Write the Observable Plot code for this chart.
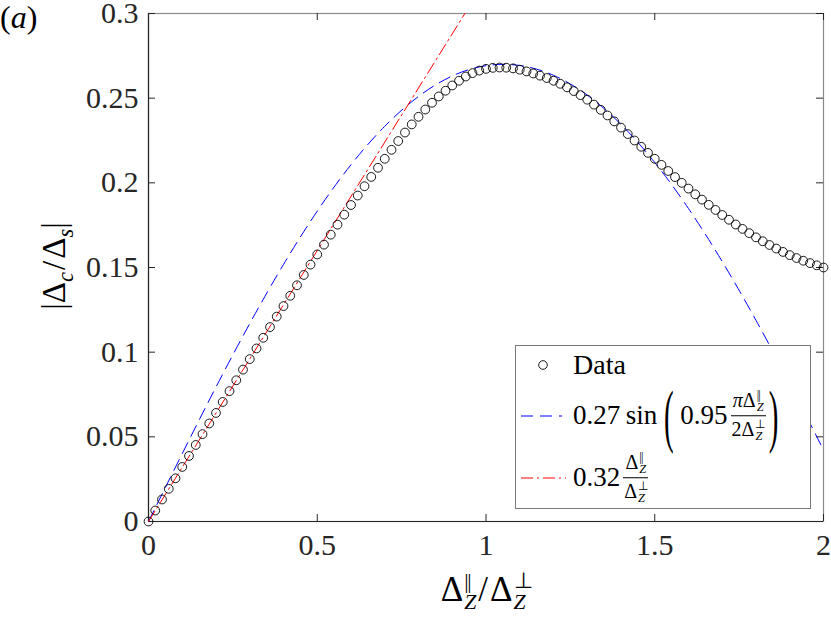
<!DOCTYPE html>
<html>
<head>
<meta charset="utf-8">
<script src="https://cdn.jsdelivr.net/npm/d3@7"></script>
<script src="https://cdn.jsdelivr.net/npm/@observablehq/plot@0.6"></script>
<style>
  html, body { margin: 0; padding: 0; background: #fff; }
  #wrap { position: relative; width: 831px; height: 617px; font-family: "Liberation Serif", serif; color: #000; }
  #wrap svg { position: absolute; left: 0; top: 0; }
  #wrap svg text, #wrap svg tspan { font-family: "Liberation Serif", serif !important; }
  .abs { position: absolute; white-space: nowrap; line-height: 1; }
  .ss { display: inline-flex; flex-direction: column; font-size: 0.62em; line-height: 0.98; vertical-align: 0.62em; margin-left: 1px; }
  .ss > span { display: block; height: 0.98em; }
  .ss .sp { letter-spacing: -0.06em; }
  .frac { display: inline-flex; flex-direction: column; align-items: center; font-size: 0.74em; vertical-align: middle; line-height: 1.0; margin: 0 2px; }
  .frac .num { border-bottom: 1.2px solid #000; padding: 0 2px 2px 2px; }
  .frac .den { padding: 2px 2px 0 2px; }
  .row { position: absolute; display: flex; align-items: center; font-size: 27px; line-height: 1; }
  .bigp { display: inline-block; transform: scaleY(2.4); font-size: 29px; }
  .sl { margin: 0 2px; }
</style>
</head>
<body>
<div id="wrap"></div>
<script>
// ----- data -----
const ratio = [0,0.02,0.04,0.06,0.08,0.1,0.12,0.14,0.16,0.18,0.2,0.22,0.24,0.26,0.28,0.3,0.32,0.34,0.36,0.38,0.4,0.42,0.44,0.46,0.48,0.5,0.52,0.54,0.56,0.58,0.6,0.62,0.64,0.66,0.68,0.7,0.72,0.74,0.76,0.78,0.8,0.82,0.84,0.86,0.88,0.9,0.92,0.94,0.96,0.98,1,1.02,1.04,1.06,1.08,1.1,1.12,1.14,1.16,1.18,1.2,1.22,1.24,1.26,1.28,1.3,1.32,1.34,1.36,1.38,1.4,1.42,1.44,1.46,1.48,1.5,1.52,1.54,1.56,1.58,1.6,1.62,1.64,1.66,1.68,1.7,1.72,1.74,1.76,1.78,1.8,1.82,1.84,1.86,1.88,1.9,1.92,1.94,1.96,1.98,2];
const dataY = [0,0.0065,0.013,0.0193,0.0255,0.0322,0.0387,0.0452,0.0516,0.0579,0.0641,0.0706,0.077,0.0834,0.0897,0.0959,0.1022,0.1085,0.1148,0.121,0.1272,0.1333,0.1395,0.1456,0.1517,0.1577,0.1635,0.1694,0.1753,0.1812,0.1869,0.1925,0.198,0.2035,0.2089,0.2142,0.2195,0.2247,0.2297,0.2345,0.239,0.2433,0.2473,0.251,0.2544,0.2575,0.2603,0.2628,0.2648,0.2663,0.2673,0.2679,0.2681,0.268,0.2676,0.2668,0.2658,0.2646,0.2633,0.2619,0.2603,0.2585,0.2564,0.2542,0.2518,0.2491,0.2462,0.2431,0.2398,0.2363,0.2326,0.2288,0.225,0.2213,0.2177,0.2142,0.2106,0.207,0.2034,0.2,0.1966,0.1932,0.1901,0.187,0.184,0.181,0.1782,0.1754,0.1728,0.1703,0.1678,0.1655,0.1633,0.1612,0.1592,0.1573,0.1556,0.154,0.1526,0.1513,0.15];
const sinX = [0,0.1,0.2,0.3,0.4,0.5,0.6,0.7,0.8,0.9,1,1.1,1.2,1.3,1.4,1.5,1.6,1.7,1.8,1.9,2];
const sinY = [0,0.0401,0.0794,0.1169,0.1518,0.1833,0.2107,0.2334,0.251,0.2631,0.2692,0.2693,0.2635,0.2518,0.2345,0.212,0.1848,0.1535,0.1188,0.0814,0.0422];
const linX = [0,0.9375];
const linY = [0,0.3];
const xTicks = [0,0.5,1,1.5,2];
const yTicks = [0,0.05,0.1,0.15,0.2,0.25,0.3];

// ----- chart -----
const axisColor = "#262626";
const serif = "Liberation Serif";
const chart = Plot.plot({
  width: 831,
  height: 617,
  marginLeft: 148,
  marginRight: 8,
  marginTop: 13,
  marginBottom: 96,
  style: {fontFamily: serif, fontSize: "30px", color: axisColor, background: "white", overflow: "visible"},
  x: {domain: [0, 2]},
  y: {domain: [0, 0.3]},
  marks: [
    Plot.frame({stroke: "#8a8a8a", strokeWidth: 1.2}),
    Plot.axisX({ticks: xTicks, tickSize: 0, tickPadding: 12, tickFormat: d => String(d), label: null, fill: axisColor, fontFamily: serif}),
    Plot.axisY({ticks: yTicks, tickSize: 0, tickPadding: 10, tickFormat: d => String(d), label: null, fill: axisColor, fontFamily: serif}),
    Plot.tickX(xTicks, {x: d => d, insetTop: 501, stroke: axisColor}),
    Plot.tickX(xTicks, {x: d => d, insetBottom: 501, stroke: axisColor}),
    Plot.tickY(yTicks, {y: d => d, insetRight: 668, stroke: axisColor}),
    Plot.tickY(yTicks, {y: d => d, insetLeft: 668, stroke: axisColor}),
    Plot.ruleX([0], {stroke: axisColor, strokeWidth: 1.2}),
    Plot.ruleY([0], {stroke: axisColor, strokeWidth: 1.2}),
    Plot.line(sinY, {x: sinX, y: sinY, curve: "natural", stroke: "#0000ff", strokeWidth: 1, strokeDasharray: "12,7"}),
    Plot.line(linY, {x: linX, y: linY, stroke: "#ff0000", strokeWidth: 1, strokeDasharray: "12,4,2,4"}),
    Plot.dot(dataY, {x: ratio, y: dataY, r: 4.4, stroke: "#000", strokeWidth: 0.9, fill: "none"})
  ]
});

const wrap = document.getElementById("wrap");
wrap.appendChild(chart);

function dz(sup) {
  return `Δ<span class="ss"><span class="sp">${sup}</span><span><i>Z</i></span></span>`;
}
const PAR = "||";
const PERP = "⊥";

const html = `
<div class="abs" style="left:0px; top:1px; font-size:32px;">(<i>a</i>)</div>
<div class="abs" style="left:58px; top:266px; font-size:33px; transform: translate(-50%,-50%) rotate(-90deg);">|Δ<sub style="font-size:0.68em"><i>c</i></sub><span class="sl">/</span>Δ<sub style="font-size:0.68em"><i>s</i></sub>|</div>
<div class="abs" style="left:486px; top:592px; font-size:35px; transform: translate(-50%,-50%);">${dz(PAR)}<span class="sl">/</span>${dz(PERP)}</div>
<div class="abs" style="left:515px; top:345px; width:294px; height:162px; border:1.5px solid #777; background:#fff;"></div>
<svg class="abs" style="left:515px; top:345px;" width="60" height="160">
  <circle cx="28" cy="20" r="4.3" fill="none" stroke="#000" stroke-width="0.9"/>
  <line x1="6" x2="47" y1="71" y2="71" stroke="#0000ff" stroke-width="1" stroke-dasharray="12,7"/>
  <line x1="6" x2="51" y1="133" y2="133" stroke="#ff0000" stroke-width="1" stroke-dasharray="12,4,2,4"/>
</svg>
<div class="row" style="left:573px; top:365px; transform: translateY(-50%); font-size:28px;">Data</div>
<div class="row" style="left:573px; top:416px; transform: translateY(-50%);">
  <span>0.27&thinsp;sin&nbsp;</span><span class="bigp">(</span><span>&nbsp;0.95</span>
  <span class="frac"><span class="num"><i>π</i>${dz(PAR)}</span><span class="den">2${dz(PERP)}</span></span>
  <span class="bigp">)</span>
</div>
<div class="row" style="left:573px; top:478px; transform: translateY(-50%);">
  <span>0.32</span>
  <span class="frac"><span class="num">${dz(PAR)}</span><span class="den">${dz(PERP)}</span></span>
</div>
`;
wrap.insertAdjacentHTML("beforeend", html);
</script>
</body>
</html>
